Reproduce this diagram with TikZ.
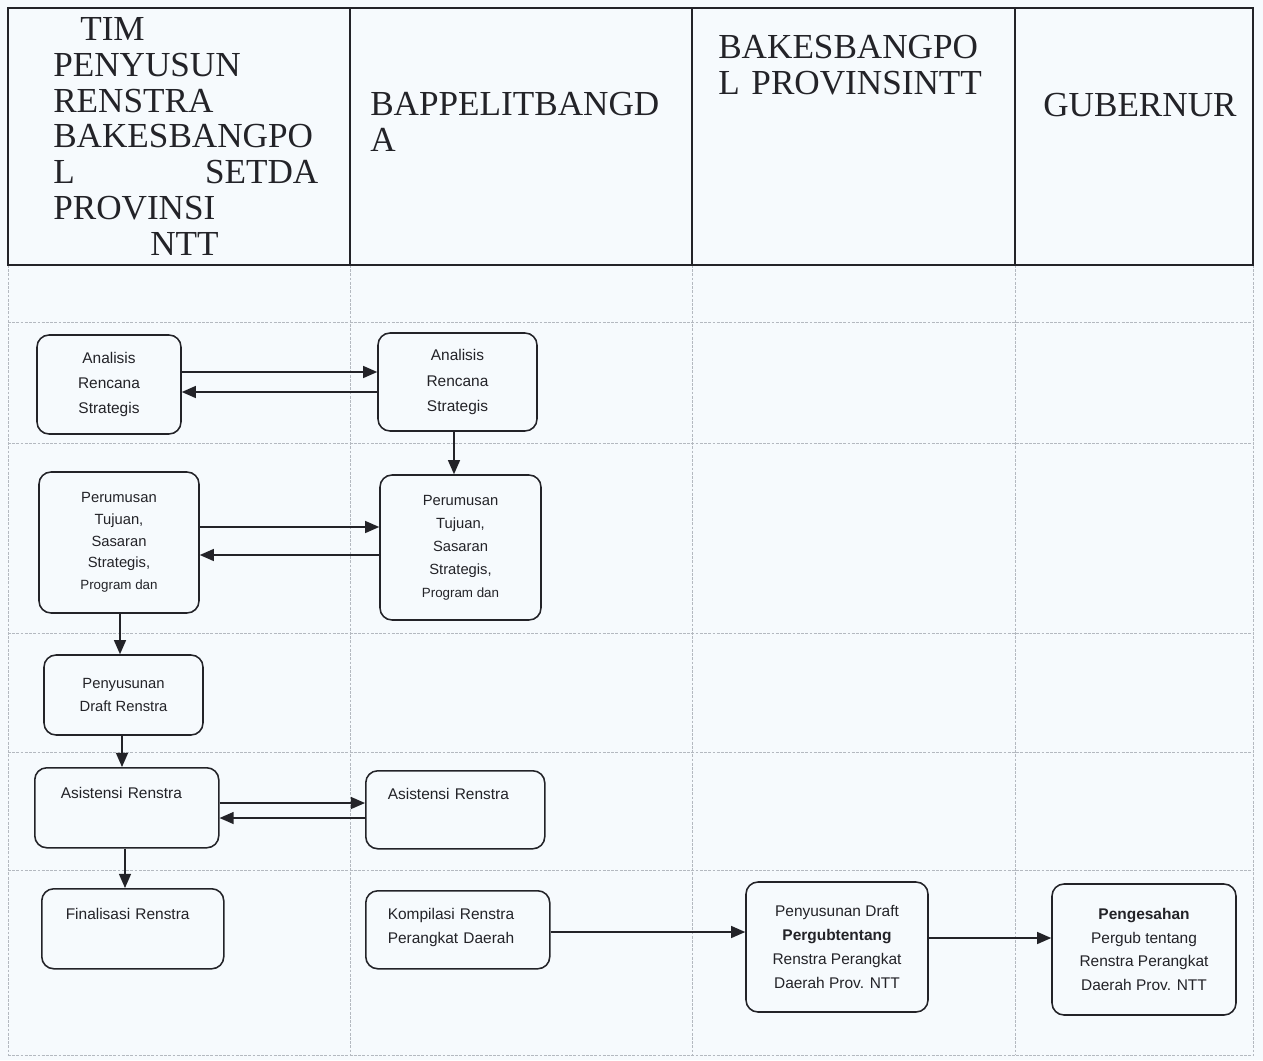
\documentclass[tikz,border=0pt]{standalone}
\usepackage{fontspec}
\setmainfont{Liberation Serif}
\newfontfamily\arialf{Liberation Sans}
\usetikzlibrary{arrows.meta}
\newlength\pxu \setlength\pxu{0.025cm}
\definecolor{paper}{RGB}{246,250,253}
\definecolor{ink}{RGB}{35,35,40}
\definecolor{gridc}{RGB}{180,185,192}
\begin{document}
\begin{tikzpicture}[x=0.025cm,y=-0.025cm,
  hdr/.style={draw=ink,line width=1pt},
  gridline/.style={draw=gridc,line width=0.5pt,dash pattern=on 2pt off 1pt},
  proc/.style={draw=ink,line width=1.1pt,rounded corners=12\pxu,text=ink,align=center,inner sep=0pt,
    font=\arialf\fontsize{11}{17.8}\selectfont},
  topl/.style={proc,anchor=north west,align=left,inner ysep=0pt},
  flow/.style={draw=ink,line width=1pt,-{Triangle[length=10pt,width=8.5pt]}},
  htext/.style={font=\fontsize{25}{25.6}\selectfont,text=ink,align=left,inner sep=0pt,anchor=base west}]
\fill[paper] (0,0) rectangle (1263,1060);
\useasboundingbox (0,0) rectangle (1263,1060);

% body grid
\foreach \yy in {322,443,633,752,870,1055} \draw[gridline] (8,\yy) -- (1253,\yy);
\foreach \xx in {8,350,692,1015,1253} \draw[gridline] (\xx,265) -- (\xx,1055);

% header table
\draw[hdr] (8,8) rectangle (1253,265);
\foreach \xx in {350,692,1015} \draw[hdr] (\xx,8) -- (\xx,265);

\node[htext,text width=265\pxu] (h1) at (53,40)
  {\hspace*{27\pxu}TIM\\PENYUSUN\\RENSTRA\\BAKESBANGPO\\\makebox[\linewidth]{L\hfill SETDA}\\PROVINSI\\\hspace*{97\pxu}NTT};
\node[htext,text width=320\pxu] (h2) at (370,115) {BAPPELITBANGD\\A};
\node[htext,text width=300\pxu] (h3) at (718,58) {BAKESBANGPO\\L PROVINSINTT};
\node[htext] (h4) at (1043,116) {GUBERNUR};

% process boxes
\node[proc,minimum width=144\pxu,minimum height=99\pxu] (A1) at (109,384.5) {Analisis\\Rencana\\Strategis};
\node[proc,minimum width=159\pxu,minimum height=98\pxu] (B1) at (457.5,382) {Analisis\\Rencana\\Strategis};
\node[proc,minimum width=160\pxu,minimum height=141\pxu,font=\arialf\fontsize{10.5}{15.5}\selectfont] (A2) at (119,542.5)
  {Perumusan\\Tujuan,\\Sasaran\\Strategis,\\{\fontsize{9.5}{15.5}\selectfont Program dan}};
\node[proc,minimum width=161\pxu,minimum height=145\pxu,font=\arialf\fontsize{10.5}{16.3}\selectfont] (B2) at (460.5,547.5)
  {Perumusan\\Tujuan,\\Sasaran\\Strategis,\\{\fontsize{9.5}{16.3}\selectfont Program dan}};
\node[proc,minimum width=159\pxu,minimum height=80\pxu,font=\arialf\fontsize{10.5}{16.3}\selectfont] (A3) at (123.5,695)
  {Penyusunan\\Draft Renstra};
\node[topl,text width=132\pxu,inner xsep=26\pxu,text height=30.5\pxu,text depth=49.5\pxu] (A4) at (34,767) {Asistensi Renstra};
\node[topl,text width=135\pxu,inner xsep=22\pxu,text height=28.5\pxu,text depth=49.5\pxu] (B4) at (365,770) {Asistensi Renstra};
\node[topl,text width=134\pxu,inner xsep=24\pxu,text height=30.5\pxu,text depth=49.5\pxu] (A5) at (41,888) {Finalisasi Renstra};
\node[topl,text width=140\pxu,inner xsep=22\pxu,text height=28.5\pxu,text depth=49.5\pxu,font=\arialf\fontsize{11}{17}\selectfont] (B5) at (365,890)
  {Kompilasi Renstra\\Perangkat Daerah};
\node[proc,minimum width=182\pxu,minimum height=130\pxu,font=\arialf\fontsize{11}{17}\selectfont] (C5) at (837,947)
  {Penyusunan Draft\\\textbf{Pergubtentang}\\Renstra Perangkat\\Daerah Prov. NTT};
\node[proc,minimum width=184\pxu,minimum height=131\pxu,font=\arialf\fontsize{11}{17}\selectfont] (D5) at (1144,949.5)
  {\textbf{Pengesahan}\\Pergub tentang\\Renstra Perangkat\\Daerah Prov. NTT};

% connectors
\draw[flow] (A1.east |- 0,372) -- (B1.west |- 0,372);
\draw[flow] (B1.west |- 0,392) -- (A1.east |- 0,392);
\draw[flow] (454,0 |- B1.south) -- (454,0 |- B2.north);
\draw[flow] (A2.east |- 0,527) -- (B2.west |- 0,527);
\draw[flow] (B2.west |- 0,555) -- (A2.east |- 0,555);
\draw[flow] (120,0 |- A2.south) -- (120,0 |- A3.north);
\draw[flow] (122,0 |- A3.south) -- (122,0 |- A4.north);
\draw[flow] (A4.east |- 0,803) -- (B4.west |- 0,803);
\draw[flow] (B4.west |- 0,818) -- (A4.east |- 0,818);
\draw[flow] (125,0 |- A4.south) -- (125,0 |- A5.north);
\draw[flow] (B5.east |- 0,932) -- (C5.west |- 0,932);
\draw[flow] (C5.east |- 0,938) -- (D5.west |- 0,938);
\end{tikzpicture}
\end{document}
